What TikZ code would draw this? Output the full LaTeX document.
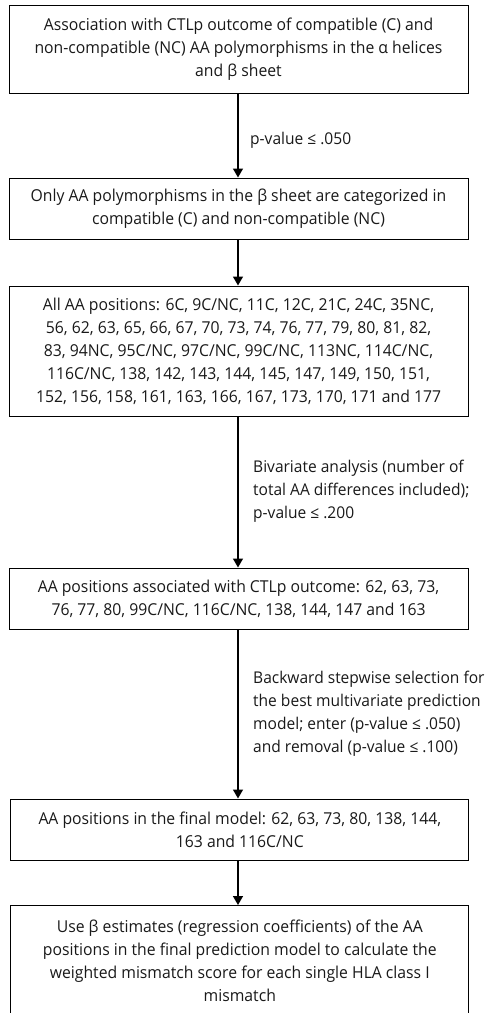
\documentclass[tikz,border=0pt]{standalone}
\usepackage{fontspec}
\setmainfont[FakeStretch=0.96]{Open Sans}
\usetikzlibrary{arrows.meta}
\begin{document}
\begin{tikzpicture}[x=1pt,y=-1pt,
  box/.style={draw=black, line width=1pt, rectangle, inner sep=0pt, align=center,
    font=\fontsize{16.4}{23}\selectfont, text=black!90},
  lbl/.style={anchor=west, align=left, inner sep=0pt, font=\fontsize{16.2}{23}\selectfont, text=black!90},
  arr/.style={line width=1.4pt, -{Triangle[length=9pt,width=10pt]}}]
\useasboundingbox (0,0) rectangle (491,1013);
\node[box, minimum width=459pt, minimum height=88pt] (b1) at (238.5,49)
  {Association with CTLp outcome of compatible (C) and\\non-compatible (NC) AA polymorphisms in the α helices\\and β sheet};
\node[box, minimum width=459pt, minimum height=61pt] (b2) at (238.5,208.5)
  {Only AA polymorphisms in the β sheet are categorized in\\compatible (C) and non-compatible (NC)};
\node[box, minimum width=459pt, minimum height=130pt] (b3) at (238.5,351)
  {All AA positions: 6C, 9C/NC, 11C, 12C, 21C, 24C, 35NC,\\56, 62, 63, 65, 66, 67, 70, 73, 74, 76, 77, 79, 80, 81, 82,\\83, 94NC, 95C/NC, 97C/NC, 99C/NC, 113NC, 114C/NC,\\116C/NC, 138, 142, 143, 144, 145, 147, 149, 150, 151,\\152, 156, 158, 161, 163, 166, 167, 173, 170, 171 and 177};
\node[box, minimum width=459pt, minimum height=61pt] (b4) at (238.5,598.5)
  {AA positions associated with CTLp outcome: 62, 63, 73,\\76, 77, 80, 99C/NC, 116C/NC, 138, 144, 147 and 163};
\node[box, minimum width=458pt, minimum height=61pt] (b5) at (239.8,829.5)
  {AA positions in the final model: 62, 63, 73, 80, 138, 144,\\163 and 116C/NC};
\node[box, minimum width=458pt, minimum height=110pt] (b6) at (239.8,960.5)
  {Use β estimates (regression coefficients) of the AA\\positions in the final prediction model to calculate the\\weighted mismatch score for each single HLA class I\\mismatch};
\draw[arr] (b1.south -| 238,0) -- (b2.north -| 238,0);
\draw[arr] (b2.south -| 238,0) -- (b3.north -| 238,0);
\draw[arr] (b3.south -| 238,0) -- (b4.north -| 238,0);
\draw[arr] (b4.south -| 238,0) -- (b5.north -| 238,0);
\draw[arr] (b5.south -| 238,0) -- (b6.north -| 238,0);
\node[lbl] (l1) at (250,140) {p-value ≤ .050};
\node[lbl] (l2) at (253,491) {Bivariate analysis (number of\\total AA differences included);\\p-value ≤ .200};
\node[lbl] (l3) at (253,714) {Backward stepwise selection for\\the best multivariate prediction\\model; enter (p-value ≤ .050)\\and removal (p-value ≤ .100)};
\end{tikzpicture}
\end{document}
